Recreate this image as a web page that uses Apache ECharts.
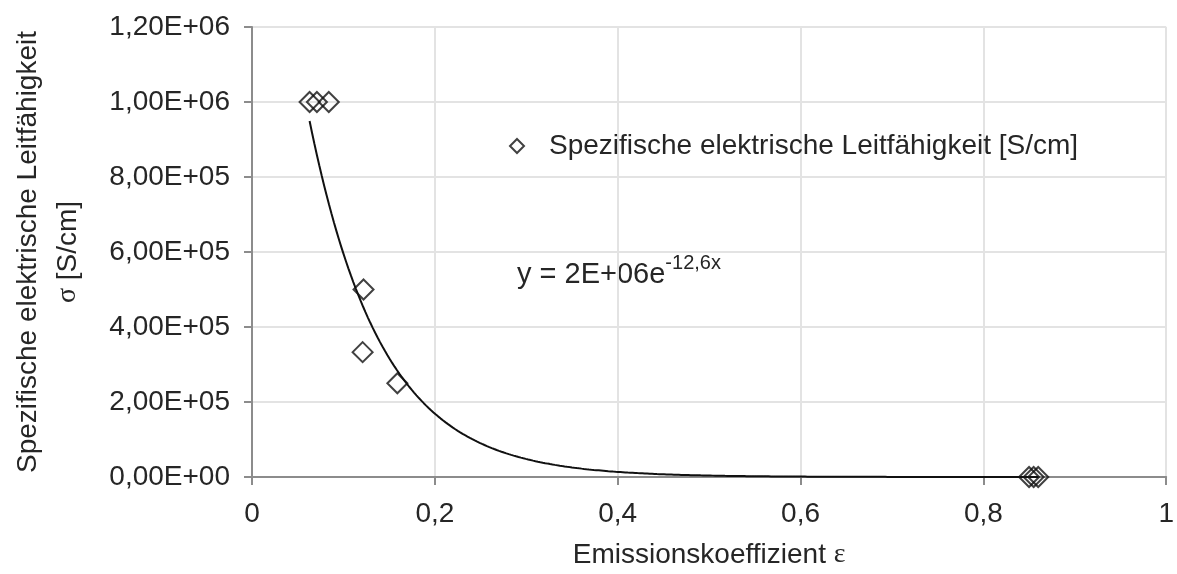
<!DOCTYPE html>
<html>
<head>
<meta charset="utf-8">
<script src="https://cdn.jsdelivr.net/npm/echarts@6/dist/echarts.min.js"></script>
<style>
  html, body { margin: 0; padding: 0; background: #ffffff; }
  #chart { width: 1177px; height: 574px; }
</style>
</head>
<body>
<div id="chart"></div>
<script>
// Emission coefficient (x) and specific electrical conductivity in S/cm (y)
const emissionCoeff = [0.063, 0.071, 0.084, 0.122, 0.121, 0.159, 0.850, 0.855, 0.860];
const conductivity  = [1.0e6, 1.0e6, 1.0e6, 5.0e5, 3.33e5, 2.5e5, 50, 20, 10];

// Exponential trendline y = A * e^(k x)
const trendA = 2.1e6;
const trendK = -12.6;

// Axis ticks
const xTicks = [0, 0.2, 0.4, 0.6, 0.8, 1];
const yTicks = [0, 2e5, 4e5, 6e5, 8e5, 1e6, 1.2e6];

const seriesName = 'Spezifische elektrische Leitfähigkeit [S/cm]';
const textColor = '#262626';
const fontFamily = 'Liberation Sans, Arial, sans-serif';
const serifFamily = 'Liberation Serif, serif';

// Excel-style scientific number: 1,20E+06
function sci(v, digits) {
  if (v === 0) return (0).toFixed(digits).replace('.', ',') + 'E+00';
  const e = Math.floor(Math.log10(Math.abs(v)) + 1e-12);
  const m = v / Math.pow(10, e);
  return m.toFixed(digits).replace('.', ',') + 'E' + (e < 0 ? '-' : '+') + String(Math.abs(e)).padStart(2, '0');
}

const points = emissionCoeff.map((x, i) => [x, conductivity[i]]);

// Trendline sampled over the x range of the measurements
const xMin = Math.min(...emissionCoeff), xMax = Math.max(...emissionCoeff);
const trend = [];
for (let i = 0; i <= 300; i++) {
  const x = xMin + (xMax - xMin) * i / 300;
  trend.push([x, trendA * Math.exp(trendK * x)]);
}

const eqMain = 'y = ' + sci(trendA, 0) + 'e';
const eqExp = String(trendK).replace('.', ',') + 'x';

const chart = echarts.init(document.getElementById('chart'), null, { renderer: 'canvas' });
chart.setOption({
  backgroundColor: '#ffffff',
  animation: false,
  textStyle: { fontFamily: fontFamily, color: textColor },
  grid: { left: 243, right: 8, top: 27, bottom: 92, containLabel: false },
  xAxis: {
    type: 'value',
    min: xTicks[0], max: xTicks[xTicks.length - 1], interval: 0.2,
    name: '{a|Emissionskoeffizient }{g|ε}',
    nameLocation: 'middle', nameGap: 64,
    nameTextStyle: {
      rich: {
        a: { fontSize: 28, color: textColor, fontFamily: fontFamily },
        g: { fontSize: 28, color: textColor, fontFamily: serifFamily }
      }
    },
    axisLine: { show: true, lineStyle: { color: '#8c8c8c', width: 2 } },
    axisTick: { show: true, inside: false, length: 8, lineStyle: { color: '#8c8c8c', width: 2 } },
    axisLabel: {
      fontSize: 28, color: textColor, margin: 23,
      formatter: v => String(Math.round(v * 10) / 10).replace('.', ',')
    },
    splitLine: { show: true, lineStyle: { color: '#e3e3e3', width: 2 } }
  },
  yAxis: {
    type: 'value',
    min: yTicks[0], max: yTicks[yTicks.length - 1], interval: 2e5,
    name: '{a|Spezifische elektrische Leitfähigkeit}\n{g|σ}{a| [S/cm]}',
    nameLocation: 'middle', nameRotate: 90, nameGap: 164,
    nameTextStyle: {
      align: 'center', lineHeight: 40,
      rich: {
        a: { fontSize: 28, color: textColor, fontFamily: fontFamily, lineHeight: 40 },
        g: { fontSize: 28, color: textColor, fontFamily: serifFamily, lineHeight: 40 }
      }
    },
    axisLine: { show: true, lineStyle: { color: '#8c8c8c', width: 2 } },
    axisTick: { show: true, inside: false, length: 8, lineStyle: { color: '#8c8c8c', width: 2 } },
    axisLabel: { fontSize: 28, color: textColor, margin: 22, formatter: v => sci(v, 2) },
    splitLine: { show: true, lineStyle: { color: '#e3e3e3', width: 2 } }
  },
  legend: {
    data: [seriesName],
    left: 504, top: 127,
    itemWidth: 14, itemHeight: 14, itemGap: 10,
    textStyle: { fontSize: 28, color: textColor, padding: [0, 0, 0, 20] }
  },
  graphic: [{
    type: 'text', left: 517, top: 253,
    style: {
      text: '{b|' + eqMain + '}{s|' + eqExp + '}',
      rich: {
        b: { fontSize: 29, fill: textColor, fontFamily: fontFamily, lineHeight: 36, verticalAlign: 'bottom' },
        s: { fontSize: 20, fill: textColor, fontFamily: fontFamily, lineHeight: 36, verticalAlign: 'top' }
      }
    }
  }],
  series: [
    {
      name: 'Trendlinie',
      type: 'line',
      data: trend,
      showSymbol: false,
      symbol: 'none',
      smooth: false,
      lineStyle: { color: '#111111', width: 2 },
      z: 2,
      silent: true
    },
    {
      name: seriesName,
      type: 'scatter',
      data: points,
      symbol: 'diamond',
      symbolSize: 20,
      itemStyle: { color: 'rgba(255,255,255,0)', borderColor: '#111111', borderWidth: 2 },
      z: 3
    }
  ]
});
</script>
</body>
</html>
